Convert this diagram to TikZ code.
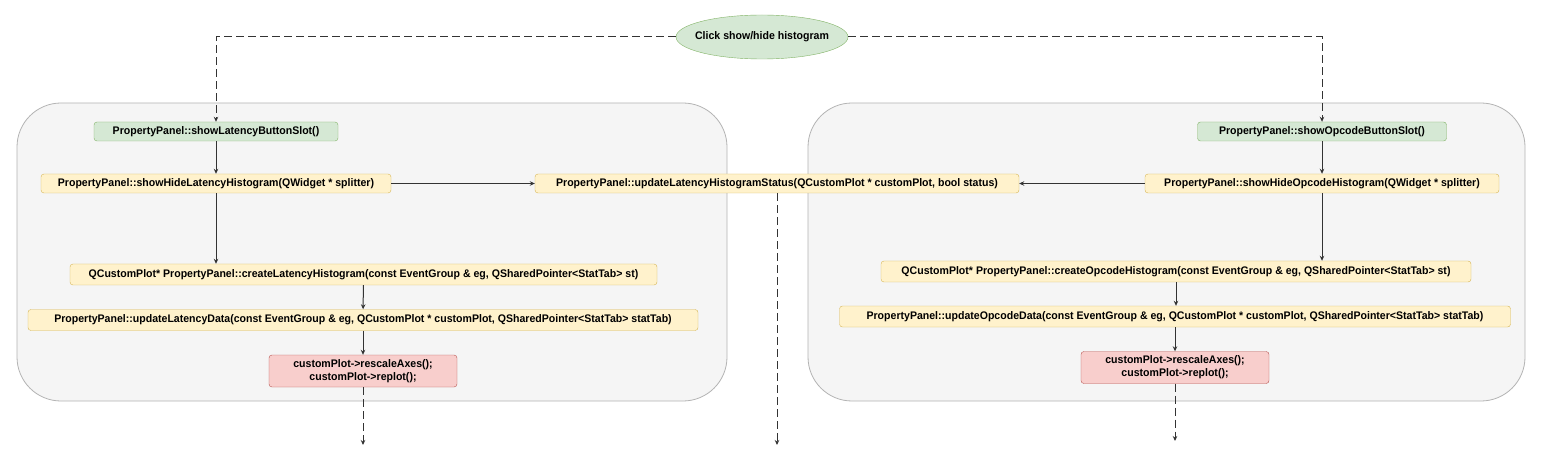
\documentclass[tikz,border=0pt]{standalone}
\usepackage{fontspec}
\setmainfont{Liberation Sans}[FakeStretch=0.96]
\usepackage{tikz}
\usetikzlibrary{shapes.geometric, arrows.meta, positioning}
\definecolor{slotgreen}{HTML}{D5E8D4}
\definecolor{slotline}{HTML}{82B366}
\definecolor{callyellow}{HTML}{FFF2CC}
\definecolor{callline}{HTML}{D6B656}
\definecolor{plotred}{HTML}{F8CECC}
\definecolor{plotline}{HTML}{B85450}
\definecolor{panelgray}{HTML}{F5F5F5}
\definecolor{panelline}{HTML}{B3B3B3}
\definecolor{wire}{HTML}{333333}
\tikzset{
  panel/.style={draw=panelline, fill=panelgray, rounded corners=44pt, line width=0.8pt},
  event/.style={ellipse, draw=slotline, fill=slotgreen, minimum width=172pt, minimum height=44pt, inner xsep=-8pt, inner ysep=0pt},
  slot/.style={draw=slotline, fill=slotgreen, rounded corners=3pt, minimum height=19pt, inner sep=0pt},
  call/.style={draw=callline, fill=callyellow, rounded corners=3pt, minimum height=19pt, inner sep=0pt},
  plot/.style={draw=plotline, fill=plotred, rounded corners=3pt, minimum width=188pt, minimum height=32pt, inner sep=0pt, align=center},
  link/.style={draw=wire, line width=1pt, -{Stealth[length=5pt, width=4.5pt]}},
  flow/.style={link, dash pattern=on 8pt off 4pt}
}

\begin{document}
\begin{tikzpicture}[x=1pt, y=-1pt, font=\fontsize{11}{13}\selectfont\bfseries]
  \useasboundingbox (0,0) rectangle (1552,462);

  % Panels
  \draw[panel] (17,103) rectangle (727,401);
  \draw[panel] (808,103) rectangle (1525,401);

  % Trigger
  \node[event] (click) at (762,37) {Click show/hide histogram};

  % Latency side
  \node[slot, minimum width=244pt] (latslot) at (216,131.5) {PropertyPanel::showLatencyButtonSlot()};
  \node[call, minimum width=350pt] (lattoggle) at (216,183.5) {PropertyPanel::showHideLatencyHistogram(QWidget * splitter)};
  \node[call, minimum width=587pt, minimum height=21pt] (latcreate) at (363.5,274.5) {QCustomPlot* PropertyPanel::createLatencyHistogram(const EventGroup \& eg, QSharedPointer<StatTab> st)};
  \node[call, minimum width=670pt, minimum height=21pt] (latdata) at (363,320) {PropertyPanel::updateLatencyData(const EventGroup \& eg, QCustomPlot * customPlot, QSharedPointer<StatTab> statTab)};
  \node[plot] (latplot) at (363,371) {customPlot->rescaleAxes();\\customPlot->replot();};

  % Shared status call
  \node[call, minimum width=484pt] (status) at (777,183.5) {PropertyPanel::updateLatencyHistogramStatus(QCustomPlot * customPlot, bool status)};

  % Opcode side
  \node[slot, minimum width=249pt] (opslot) at (1322,131.5) {PropertyPanel::showOpcodeButtonSlot()};
  \node[call, minimum width=354pt] (optoggle) at (1322,183.5) {PropertyPanel::showHideOpcodeHistogram(QWidget * splitter)};
  \node[call, minimum width=590pt, minimum height=21pt] (opcreate) at (1176,271.5) {QCustomPlot* PropertyPanel::createOpcodeHistogram(const EventGroup \& eg, QSharedPointer<StatTab> st)};
  \node[call, minimum width=671pt, minimum height=21pt] (opdata) at (1175,316.5) {PropertyPanel::updateOpcodeData(const EventGroup \& eg, QCustomPlot * customPlot, QSharedPointer<StatTab> statTab)};
  \node[plot] (opplot) at (1175,367.5) {customPlot->rescaleAxes();\\customPlot->replot();};

  % Loose ends
  \coordinate (latout) at (363,445);
  \coordinate (statusout) at (777,445);
  \coordinate (opout) at (1175,441);

  % Connectors
  \draw[flow] (click.west) -| (latslot.north);
  \draw[flow] (click.east) -| (opslot.north);
  \draw[link] (latslot) -- (lattoggle);
  \draw[link] (lattoggle) -- (status);
  \draw[link] (optoggle) -- (status);
  \draw[link] (lattoggle.south) -- (lattoggle.south |- latcreate.north);
  \draw[link] (latcreate) -- (latdata);
  \draw[link] (latdata) -- (latplot);
  \draw[flow] (latplot) -- (latout);
  \draw[flow] (status.south) -- (statusout);
  \draw[link] (opslot) -- (optoggle);
  \draw[link] (optoggle.south) -- (optoggle.south |- opcreate.north);
  \draw[link] (opcreate) -- (opcreate |- opdata.north);
  \draw[link] (opdata) -- (opplot);
  \draw[flow] (opplot) -- (opout);
\end{tikzpicture}
\end{document}
